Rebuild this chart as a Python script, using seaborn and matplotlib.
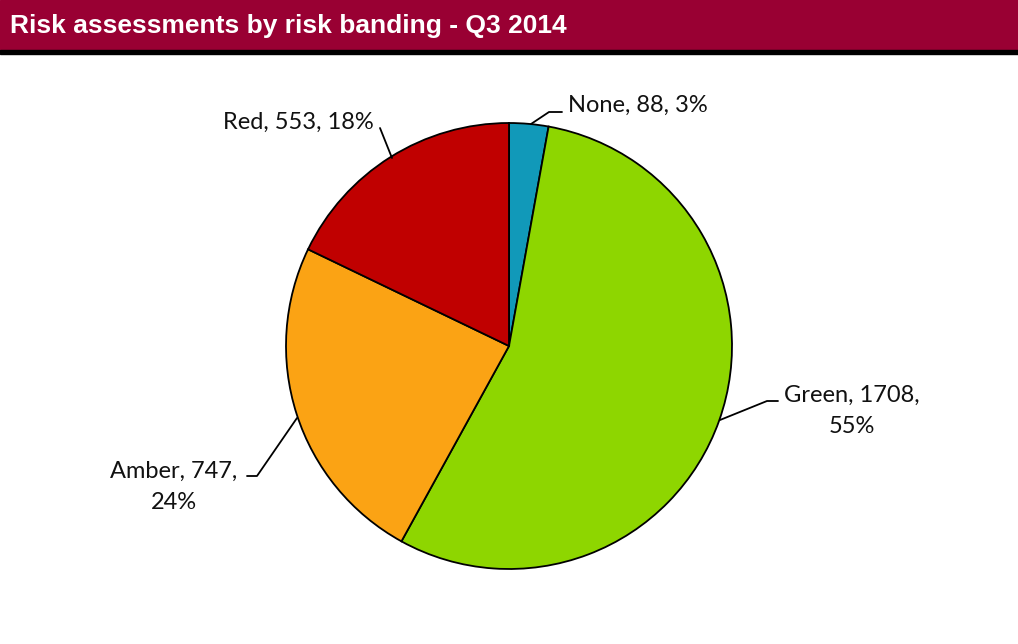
import matplotlib
matplotlib.use("Agg")
import matplotlib.pyplot as plt
import seaborn as sns
from matplotlib.patches import Rectangle

sns.set_theme(style="white")
plt.rcParams['font.family'] = ['Lato', 'DejaVu Sans']

# ---- data ----
categories = ["None", "Green", "Amber", "Red"]
values = [88, 1708, 747, 553]
percents = ["3%", "55%", "24%", "18%"]
colors = ["#1199B9", "#8ED600", "#FBA314", "#C00000"]
title = "Risk assessments by risk banding - Q3 2014"

W, H = 1018, 644
fig = plt.figure(figsize=(W / 100, H / 100), dpi=100)
ax = fig.add_axes([0, 0, 1, 1])

def Y(py):
    return H - py

# title bar
ax.add_patch(Rectangle((0, Y(50)), W, 50, color="#990033", zorder=1))
ax.add_patch(Rectangle((0, Y(54)), W, 4, color="black", zorder=1))
ax.text(10, Y(26), title, color="white", fontsize=19, fontweight="bold",
        family=["Liberation Sans", "DejaVu Sans"], va="center", ha="left")

# pie
ax.pie(values, colors=colors, startangle=90, counterclock=False,
       center=(509, Y(346)), radius=223, frame=True,
       wedgeprops=dict(edgecolor="black", linewidth=1.3))
ax.set_xlim(0, W)
ax.set_ylim(0, H)
ax.set_aspect('equal')
ax.axis('off')

# labels: (text, text position, alignment, leader points) in pixel layout
labels = [
    (f"{categories[0]}, {values[0]}, {percents[0]}", (568, 105), "left",
     [(531, 124), (549, 112), (562, 112)]),
    (f"{categories[1]}, {values[1]},\n{percents[1]}", (852, 411), "center",
     [(720, 420), (767, 401), (778, 401)]),
    (f"{categories[2]}, {values[2]},\n{percents[2]}", (174, 487), "center",
     [(297, 418), (257, 476), (247, 476)]),
    (f"{categories[3]}, {values[3]}, {percents[3]}", (298, 122), "center",
     [(392, 158), (380, 128)]),
]
for txt, (tx, ty), ha, pts in labels:
    ax.text(tx, Y(ty), txt, fontsize=17, color="#111111", ha=ha, va="center",
            multialignment="center", linespacing=1.6)
    ax.plot([p[0] for p in pts], [Y(p[1]) for p in pts], color="black", lw=1.3)

fig.savefig("out.png", dpi=100)
